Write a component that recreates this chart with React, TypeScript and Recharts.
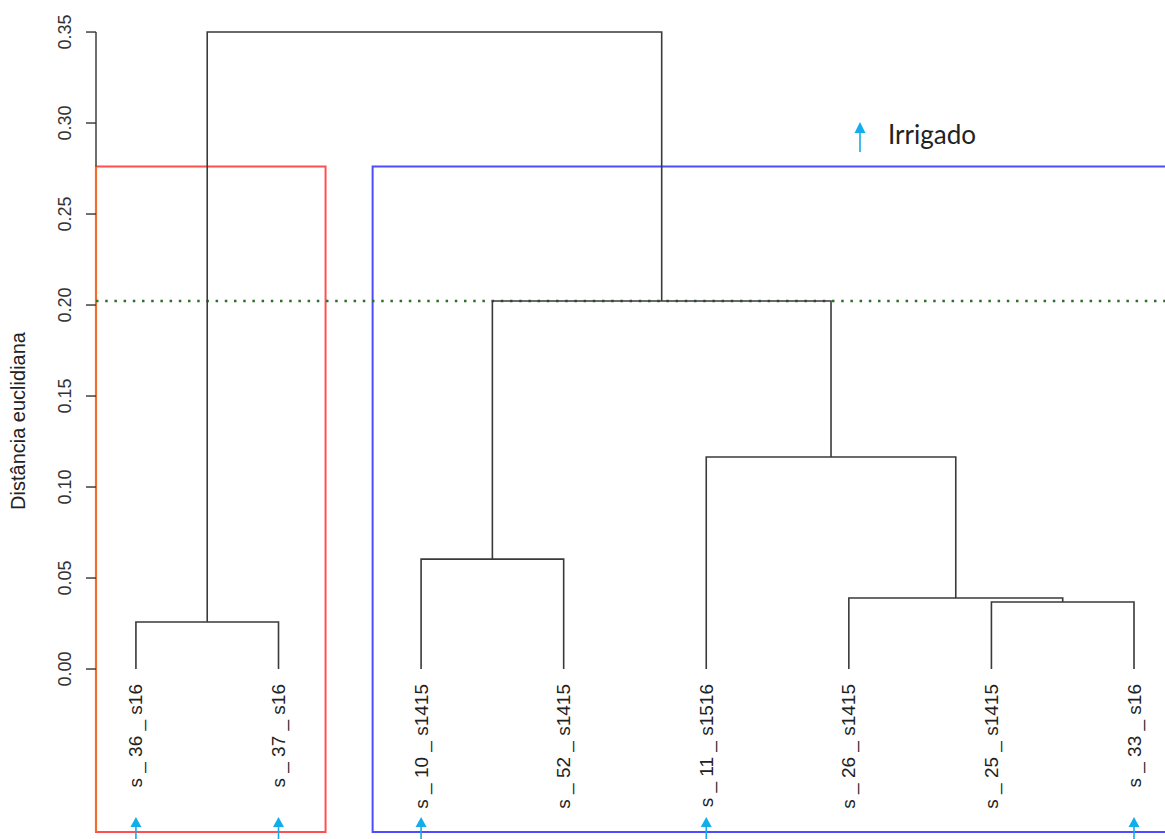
import React from 'react';
import { ComposedChart, Line, Scatter, XAxis, YAxis, ReferenceLine, ReferenceArea } from 'recharts';

// leaves in dendrogram order
const leafLabels = [
  's _ 36 _ s16',
  's _ 37 _ s16',
  's _ 10 _ s1415',
  's _ 52 _ s1415',
  's _ 11 _ s1516',
  's _ 26 _ s1415',
  's _ 25 _ s1415',
  's _ 33 _ s16',
];
const irrigated = [true, true, true, false, true, false, false, true];

// hclust-style merge table: negative = leaf (1-based), positive = earlier merge row
const mergeA = [-1, -7, -6, -3, -5, 4, 1];
const mergeB = [-2, -8, 2, -4, 3, 5, 6];
const mergeHeight = [0.0258, 0.0368, 0.039, 0.0604, 0.1165, 0.2022, 0.35];

const yTicks = [0, 0.05, 0.1, 0.15, 0.2, 0.25, 0.3, 0.35];
const cutHeight = 0.2022;
const boxTop = (mergeHeight[5] + mergeHeight[6]) / 2;
const boxBottom = -0.0896;
const arrowLevel = -0.0813;

const W = 1165;
const H = 839;
const font = '"Liberation Sans", Arial, sans-serif';
const lineColor = '#3a3a3a';
const cyan = '#12aeea';

type Pt = { x: number; y: number };

function buildSegments(): Pt[][] {
  const nodes: Pt[] = [];
  const pos = (id: number): Pt => (id < 0 ? { x: -id, y: 0 } : nodes[id - 1]);
  const segs: Pt[][] = [];
  mergeA.forEach((a, i) => {
    const pa = pos(a);
    const pb = pos(mergeB[i]);
    const h = mergeHeight[i];
    segs.push([
      { x: pa.x, y: pa.y },
      { x: pa.x, y: h },
      { x: pb.x, y: h },
      { x: pb.x, y: pb.y },
    ]);
    nodes.push({ x: (pa.x + pb.x) / 2, y: h });
  });
  return segs;
}

const segments = buildSegments();
const leaves = leafLabels.map((label, i) => ({ x: i + 1, y: 0, label }));
const arrows = leaves.filter((_, i) => irrigated[i]).map(l => ({ x: l.x, y: arrowLevel }));

const YTick = (props: any) => {
  const { y, payload } = props;
  const x = 65;
  return (
    <text
      x={x}
      y={y}
      transform={`rotate(-90, ${x}, ${y})`}
      textAnchor="middle"
      dominantBaseline="central"
      fontSize={18}
      fontFamily={font}
      fill="#333"
    >
      {payload.value.toFixed(2)}
    </text>
  );
};

const LeafLabel = (props: any) => {
  const { cx, cy, payload } = props;
  const y = cy + 15;
  return (
    <text
      x={cx}
      y={y}
      transform={`rotate(-90, ${cx}, ${y})`}
      textAnchor="end"
      dominantBaseline="central"
      fontSize={19}
      fontFamily={font}
      fill="#222"
    >
      {payload.label}
    </text>
  );
};

const ArrowMark = (props: any) => {
  const { cx, cy } = props;
  return (
    <g>
      <line x1={cx} y1={cy + 8} x2={cx} y2={cy + 40} stroke={cyan} strokeWidth={1.6} />
      <path d={`M${cx},${cy} L${cx - 5.5},${cy + 10} L${cx + 5.5},${cy + 10} Z`} fill={cyan} />
    </g>
  );
};

export default function App() {
  return (
    <div style={{ position: 'absolute', left: 0, top: 0, width: W, height: H, background: '#fff' }}>
      <ComposedChart width={W} height={H} margin={{ top: 0, right: 0, bottom: 0, left: 0 }}>
        <XAxis type="number" dataKey="x" domain={[0.72, 8.2174]} allowDataOverflow hide />
        <YAxis
          type="number"
          domain={[-0.0934, 0.3676]}
          allowDataOverflow
          ticks={yTicks}
          width={96}
          axisLine={false}
          tickLine={{ stroke: '#333', strokeWidth: 1.4 }}
          tickSize={10}
          tick={<YTick />}
          interval={0}
        />
        <ReferenceArea
          x1={0.72}
          x2={2.33}
          y1={boxBottom}
          y2={boxTop}
          fill="none"
          stroke="#ff4f4f"
          strokeWidth={2}
          ifOverflow="visible"
        />
        <ReferenceArea
          x1={2.66}
          x2={8.33}
          y1={boxBottom}
          y2={boxTop}
          fill="none"
          stroke="#4d4dff"
          strokeWidth={2}
          ifOverflow="visible"
        />
        <ReferenceLine
          segment={[{ x: 0.72, y: 0 }, { x: 0.72, y: 0.35 }]}
          stroke="#333"
          strokeWidth={1.4}
          ifOverflow="visible"
        />
        <ReferenceLine
          segment={[{ x: 0.72, y: boxBottom }, { x: 0.72, y: boxTop }]}
          stroke="#f0702a"
          strokeWidth={2.2}
          ifOverflow="visible"
        />
        <ReferenceLine
          y={cutHeight}
          stroke="#2e6e2e"
          strokeWidth={2.5}
          strokeDasharray="2.5 6.7"
          ifOverflow="visible"
        />
        {segments.map((seg, i) => (
          <Line
            key={i}
            data={seg}
            dataKey="y"
            type="linear"
            stroke={lineColor}
            strokeWidth={1.6}
            dot={false}
            activeDot={false}
            isAnimationActive={false}
          />
        ))}
        <Scatter data={leaves} dataKey="y" shape={<LeafLabel />} isAnimationActive={false} />
        <Scatter data={arrows} dataKey="y" shape={<ArrowMark />} isAnimationActive={false} />
      </ComposedChart>
      <svg
        width={W}
        height={H}
        style={{ position: 'absolute', left: 0, top: 0, pointerEvents: 'none' }}
      >
        <text
          x={18}
          y={421}
          transform="rotate(-90, 18, 421)"
          textAnchor="middle"
          dominantBaseline="central"
          fontSize={20}
          fontFamily={font}
          fill="#222"
        >
          Distância euclidiana
        </text>
        <line x1={860} y1={130} x2={860} y2={152} stroke={cyan} strokeWidth={1.6} />
        <path d="M860,122 L854.5,133 L865.5,133 Z" fill={cyan} />
        <text x={888} y={144} fontSize={26} fontFamily="Lato, 'Open Sans', sans-serif" fill="#222">
          Irrigado
        </text>
      </svg>
    </div>
  );
}
